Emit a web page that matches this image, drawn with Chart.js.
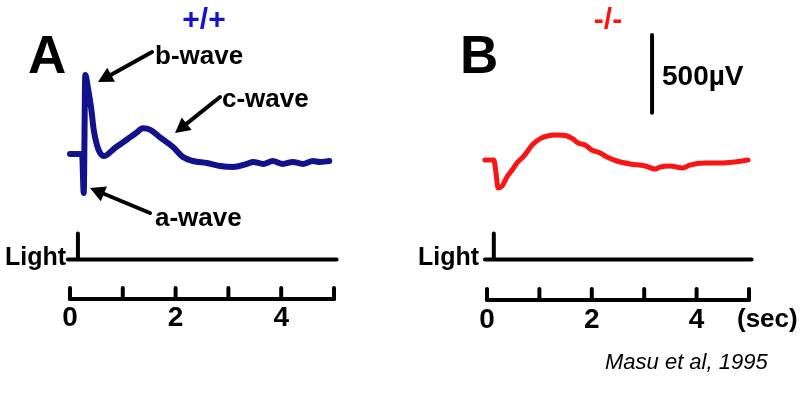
<!DOCTYPE html>
<html>
<head>
<meta charset="utf-8">
<script src="https://cdn.jsdelivr.net/npm/chart.js@4"></script>
<style>
html,body{margin:0;padding:0;background:#fff;}
#wrap{position:relative;width:800px;height:404px;}
</style>
</head>
<body>
<div id="wrap"><canvas id="c" width="800" height="404"></canvas></div>
<script>
// ---- DATA ----
// Panel A (+/+): ERG trace, time in seconds, response in microvolts
const wtTime = [0.00,0.19,0.23,0.26,0.29,0.34,0.40,0.45,0.51,0.57,0.64,0.85,1.08,1.25,1.38,1.53,1.70,1.95,2.14,2.33,2.59,2.84,3.09,3.35,3.47,3.66,3.84,4.03,4.22,4.41,4.60,4.73,4.91];
const wtMicroV = [9,9,3,-242,517,433,305,163,67,15,-4,48,102,144,174,163,118,54,-10,-36,-49,-68,-75,-55,-42,-55,-36,-55,-42,-55,-36,-42,-36];
// Panel B (-/-)
const koTime = [-0.04,0.13,0.17,0.21,0.29,0.38,0.48,0.57,0.69,0.88,1.01,1.15,1.34,1.53,1.64,1.74,1.87,2.00,2.16,2.29,2.48,2.73,3.02,3.21,3.30,3.49,3.74,3.87,4.16,4.45,4.73,4.98];
const koMicroV = [-30,-30,-107,-210,-197,-139,-94,-49,-10,73,106,125,131,125,106,80,67,35,15,-10,-36,-55,-68,-88,-75,-68,-81,-62,-49,-49,-42,-30];
// Light stimulus (flash marker), level 0 = off line, 1 = flash marker top
const lightTimeA = [-0.04,0.15,0.15,0.15,5.05];
const lightTimeB = [-0.04,0.13,0.13,0.13,5.05];
const lightLevel = [0,0,1,0,0];
// 500 µV calibration bar (panel B)
const scaleBarTime = [3.15,3.15];
const scaleBarMicroV = [275,775];
// time axis
const timeTicks = [0,1,2,3,4,5];
const timeTickLabels = ['0','2','4'];
const timeLabelValues = [0,2,4];

// ---- LAYOUT ----
const W = 800, H = 404;
const A_X0 = 70, A_PXS = 52.8;   // pixel of t=0 and px per second, panel A
const B_X0 = 487, B_PXS = 52.4;  // panel B
const UV_PER_PX = 6.436, ZERO_Y = 155.4;
const LIGHT_PX = 26, LIGHT_Y = 259.5;
const FONT = '"Liberation Sans", Arial, sans-serif';

function pts(xs, ys){ return xs.map((x,i)=>({x:x,y:ys[i]})); }

const navy = '#12128c', red = '#fa1414';

const annot = {
  id:'annot',
  afterDraw(chart){
    const ctx = chart.ctx;
    const xA = chart.scales.xA, xB = chart.scales.xB;
    ctx.save();
    ctx.strokeStyle = '#000'; ctx.fillStyle = '#000';
    ctx.lineCap = 'round'; ctx.lineJoin = 'round';
    // time axes
    [[xA,299,318],[xB,300,320]].forEach(([sc,y,ly])=>{
      ctx.lineWidth = 4;
      ctx.beginPath();
      ctx.moveTo(sc.getPixelForValue(timeTicks[0]), y);
      ctx.lineTo(sc.getPixelForValue(timeTicks[timeTicks.length-1]), y);
      ctx.stroke();
      timeTicks.forEach(t=>{
        const px = sc.getPixelForValue(t);
        ctx.beginPath(); ctx.moveTo(px,y); ctx.lineTo(px,y-11); ctx.stroke();
      });
      ctx.font = 'bold 28px '+FONT;
      ctx.textAlign='center'; ctx.textBaseline='middle';
      timeLabelValues.forEach((t,i)=>{
        ctx.fillText(timeTickLabels[i], sc.getPixelForValue(t), ly);
      });
    });
    // texts
    ctx.textBaseline='middle';
    ctx.textAlign='left';
    ctx.font = 'bold 53px '+FONT;
    ctx.fillText('A', 28, 58);
    ctx.fillText('B', 460, 58);
    ctx.font = 'bold 26px '+FONT;
    ctx.fillText('b-wave', 155, 57);
    ctx.fillText('c-wave', 222, 100);
    ctx.fillText('a-wave', 155, 219);
    ctx.font = 'bold 25px '+FONT;
    ctx.textAlign='right';
    ctx.fillText('Light', 66, 258);
    ctx.fillText('Light', 479, 258);
    ctx.textAlign='left';
    ctx.font = 'bold 26px '+FONT;
    ctx.fillText('(sec)', 737, 320);
    ctx.font = 'bold 28px '+FONT;
    ctx.fillText('500µV', 662, 77);
    ctx.font = 'italic 22px '+FONT;
    ctx.fillText('Masu et al, 1995', 605, 363);
    ctx.textAlign='center';
    ctx.font = 'bold 30px '+FONT;
    ctx.fillStyle = '#1414c8';
    ctx.fillText('+/+', 204, 21);
    ctx.fillStyle = red;
    ctx.fillText('-/-', 608, 21);
    // arrows
    ctx.fillStyle='#000';
    function arrow(x1,y1,x2,y2){
      const a = Math.atan2(y2-y1,x2-x1), L=15, hw=8;
      const bx = x2-L*Math.cos(a), by = y2-L*Math.sin(a);
      ctx.lineWidth=4;
      ctx.beginPath(); ctx.moveTo(x1,y1); ctx.lineTo(bx,by); ctx.stroke();
      ctx.beginPath(); ctx.moveTo(x2,y2);
      ctx.lineTo(bx+hw*Math.sin(a), by-hw*Math.cos(a));
      ctx.lineTo(bx-hw*Math.sin(a), by+hw*Math.cos(a));
      ctx.closePath(); ctx.fill();
    }
    arrow(152,52,98,82);
    arrow(220,97,175,133);
    arrow(150,213,90,188);
    ctx.restore();
  }
};

new Chart(document.getElementById('c'), {
  type:'line',
  data:{
    datasets:[
      {data:pts(wtTime,wtMicroV), xAxisID:'xA', yAxisID:'y', borderColor:navy, borderWidth:6, cubicInterpolationMode:'monotone'},
      {data:pts(koTime,koMicroV), xAxisID:'xB', yAxisID:'y', borderColor:red, borderWidth:5, cubicInterpolationMode:'monotone'},
      {data:pts(lightTimeA,lightLevel), xAxisID:'xA', yAxisID:'yL', borderColor:'#000', borderWidth:4, tension:0},
      {data:pts(lightTimeB,lightLevel), xAxisID:'xB', yAxisID:'yL', borderColor:'#000', borderWidth:4, tension:0},
      {data:pts(scaleBarTime,scaleBarMicroV), xAxisID:'xB', yAxisID:'y', borderColor:'#000', borderWidth:4, tension:0}
    ]
  },
  options:{
    responsive:false, animation:false, devicePixelRatio:1,
    layout:{padding:0, autoPadding:false},
    plugins:{legend:{display:false}, tooltip:{enabled:false}},
    elements:{point:{radius:0}, line:{borderCapStyle:'round', borderJoinStyle:'round', fill:false}},
    scales:{
      xA:{type:'linear', display:false, min:-A_X0/A_PXS, max:(W-A_X0)/A_PXS},
      xB:{type:'linear', display:false, min:-B_X0/B_PXS, max:(W-B_X0)/B_PXS},
      y:{type:'linear', display:false, min:-(H-ZERO_Y)*UV_PER_PX, max:ZERO_Y*UV_PER_PX},
      yL:{type:'linear', display:false, min:-(H-LIGHT_Y)/LIGHT_PX, max:LIGHT_Y/LIGHT_PX}
    }
  },
  plugins:[annot]
});
</script>
</body>
</html>
